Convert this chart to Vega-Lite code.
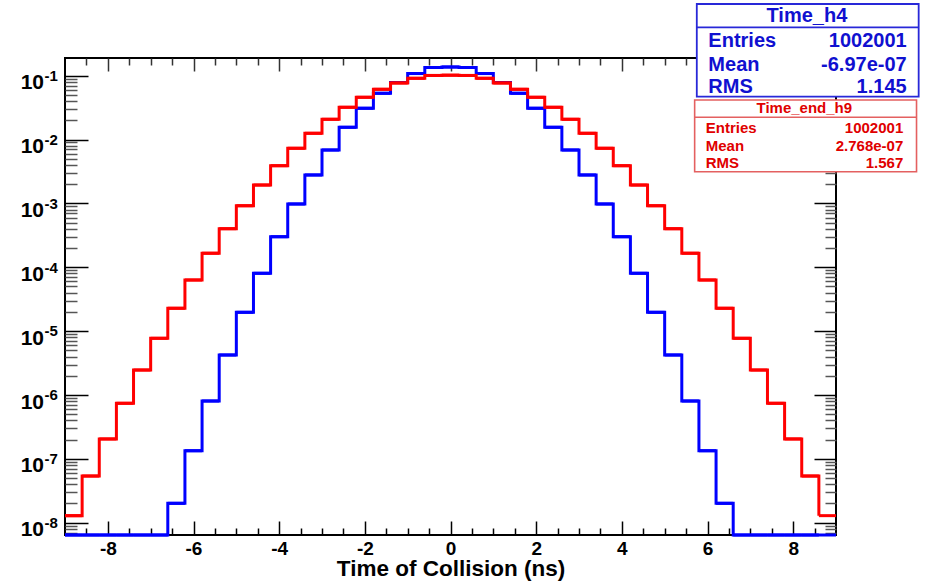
{
  "$schema": "https://vega.github.io/schema/vega-lite/v6.json",
  "width": 771,
  "height": 477,
  "autosize": "none",
  "padding": {"left": 65, "top": 58, "right": 89, "bottom": 50},
  "background": "white",
  "config": {"view": {"stroke": "#000", "strokeWidth": 2}, "font": "Liberation Sans"},
  "resolve": {"scale": {"y": "independent"}, "axis": {"x": "independent", "y": "independent"}},
  "datasets": {
    "hist": [
      {"h": "Time_h4", "lo": -9.0, "hi": -8.6, "n": 0},
      {"h": "Time_h4", "lo": -8.6, "hi": -8.2, "n": 0},
      {"h": "Time_h4", "lo": -8.2, "hi": -7.8, "n": 0},
      {"h": "Time_h4", "lo": -7.8, "hi": -7.4, "n": 0},
      {"h": "Time_h4", "lo": -7.4, "hi": -7.0, "n": 0},
      {"h": "Time_h4", "lo": -7.0, "hi": -6.6, "n": 0},
      {"h": "Time_h4", "lo": -6.6, "hi": -6.2, "n": 2.01e-8},
      {"h": "Time_h4", "lo": -6.2, "hi": -5.8, "n": 1.34e-7},
      {"h": "Time_h4", "lo": -5.8, "hi": -5.4, "n": 8.05e-7},
      {"h": "Time_h4", "lo": -5.4, "hi": -5.0, "n": 4.23e-6},
      {"h": "Time_h4", "lo": -5.0, "hi": -4.6, "n": 1.97e-5},
      {"h": "Time_h4", "lo": -4.6, "hi": -4.2, "n": 8.05e-5},
      {"h": "Time_h4", "lo": -4.2, "hi": -3.8, "n": 3.01e-4},
      {"h": "Time_h4", "lo": -3.8, "hi": -3.4, "n": 9.8e-4},
      {"h": "Time_h4", "lo": -3.4, "hi": -3.0, "n": 2.79e-3},
      {"h": "Time_h4", "lo": -3.0, "hi": -2.6, "n": 6.86e-3},
      {"h": "Time_h4", "lo": -2.6, "hi": -2.2, "n": 0.01556},
      {"h": "Time_h4", "lo": -2.2, "hi": -1.8, "n": 0.0309},
      {"h": "Time_h4", "lo": -1.8, "hi": -1.4, "n": 0.053},
      {"h": "Time_h4", "lo": -1.4, "hi": -1.0, "n": 0.0782},
      {"h": "Time_h4", "lo": -1.0, "hi": -0.6, "n": 0.108},
      {"h": "Time_h4", "lo": -0.6, "hi": -0.2, "n": 0.1343},
      {"h": "Time_h4", "lo": -0.2, "hi": 0.2, "n": 0.1368},
      {"h": "Time_h4", "lo": 0.2, "hi": 0.6, "n": 0.1343},
      {"h": "Time_h4", "lo": 0.6, "hi": 1.0, "n": 0.108},
      {"h": "Time_h4", "lo": 1.0, "hi": 1.4, "n": 0.0782},
      {"h": "Time_h4", "lo": 1.4, "hi": 1.8, "n": 0.053},
      {"h": "Time_h4", "lo": 1.8, "hi": 2.2, "n": 0.0309},
      {"h": "Time_h4", "lo": 2.2, "hi": 2.6, "n": 0.01556},
      {"h": "Time_h4", "lo": 2.6, "hi": 3.0, "n": 6.86e-3},
      {"h": "Time_h4", "lo": 3.0, "hi": 3.4, "n": 2.79e-3},
      {"h": "Time_h4", "lo": 3.4, "hi": 3.8, "n": 9.8e-4},
      {"h": "Time_h4", "lo": 3.8, "hi": 4.2, "n": 3.01e-4},
      {"h": "Time_h4", "lo": 4.2, "hi": 4.6, "n": 8.05e-5},
      {"h": "Time_h4", "lo": 4.6, "hi": 5.0, "n": 1.97e-5},
      {"h": "Time_h4", "lo": 5.0, "hi": 5.4, "n": 4.23e-6},
      {"h": "Time_h4", "lo": 5.4, "hi": 5.8, "n": 8.05e-7},
      {"h": "Time_h4", "lo": 5.8, "hi": 6.2, "n": 1.34e-7},
      {"h": "Time_h4", "lo": 6.2, "hi": 6.6, "n": 2.01e-8},
      {"h": "Time_h4", "lo": 6.6, "hi": 7.0, "n": 0},
      {"h": "Time_h4", "lo": 7.0, "hi": 7.4, "n": 0},
      {"h": "Time_h4", "lo": 7.4, "hi": 7.8, "n": 0},
      {"h": "Time_h4", "lo": 7.8, "hi": 8.2, "n": 0},
      {"h": "Time_h4", "lo": 8.2, "hi": 8.6, "n": 0},
      {"h": "Time_h4", "lo": 8.6, "hi": 9.0, "n": 0},
      {"h": "Time_end_h9", "lo": -9.0, "hi": -8.6, "n": 1.29e-8},
      {"h": "Time_end_h9", "lo": -8.6, "hi": -8.2, "n": 5.38e-8},
      {"h": "Time_end_h9", "lo": -8.2, "hi": -7.8, "n": 2.05e-7},
      {"h": "Time_end_h9", "lo": -7.8, "hi": -7.4, "n": 7.41e-7},
      {"h": "Time_end_h9", "lo": -7.4, "hi": -7.0, "n": 2.46e-6},
      {"h": "Time_end_h9", "lo": -7.0, "hi": -6.6, "n": 7.72e-6},
      {"h": "Time_end_h9", "lo": -6.6, "hi": -6.2, "n": 2.28e-5},
      {"h": "Time_end_h9", "lo": -6.2, "hi": -5.8, "n": 6.32e-5},
      {"h": "Time_end_h9", "lo": -5.8, "hi": -5.4, "n": 1.66e-4},
      {"h": "Time_end_h9", "lo": -5.4, "hi": -5.0, "n": 4.02e-4},
      {"h": "Time_end_h9", "lo": -5.0, "hi": -4.6, "n": 9.2e-4},
      {"h": "Time_end_h9", "lo": -4.6, "hi": -4.2, "n": 1.94e-3},
      {"h": "Time_end_h9", "lo": -4.2, "hi": -3.8, "n": 3.9e-3},
      {"h": "Time_end_h9", "lo": -3.8, "hi": -3.4, "n": 7.3e-3},
      {"h": "Time_end_h9", "lo": -3.4, "hi": -3.0, "n": 0.01253},
      {"h": "Time_end_h9", "lo": -3.0, "hi": -2.6, "n": 0.02076},
      {"h": "Time_end_h9", "lo": -2.6, "hi": -2.2, "n": 0.032},
      {"h": "Time_end_h9", "lo": -2.2, "hi": -1.8, "n": 0.0459},
      {"h": "Time_end_h9", "lo": -1.8, "hi": -1.4, "n": 0.0612},
      {"h": "Time_end_h9", "lo": -1.4, "hi": -1.0, "n": 0.0769},
      {"h": "Time_end_h9", "lo": -1.0, "hi": -0.6, "n": 0.091},
      {"h": "Time_end_h9", "lo": -0.6, "hi": -0.2, "n": 0.101},
      {"h": "Time_end_h9", "lo": -0.2, "hi": 0.2, "n": 0.102},
      {"h": "Time_end_h9", "lo": 0.2, "hi": 0.6, "n": 0.101},
      {"h": "Time_end_h9", "lo": 0.6, "hi": 1.0, "n": 0.091},
      {"h": "Time_end_h9", "lo": 1.0, "hi": 1.4, "n": 0.0769},
      {"h": "Time_end_h9", "lo": 1.4, "hi": 1.8, "n": 0.0612},
      {"h": "Time_end_h9", "lo": 1.8, "hi": 2.2, "n": 0.0459},
      {"h": "Time_end_h9", "lo": 2.2, "hi": 2.6, "n": 0.032},
      {"h": "Time_end_h9", "lo": 2.6, "hi": 3.0, "n": 0.02076},
      {"h": "Time_end_h9", "lo": 3.0, "hi": 3.4, "n": 0.01253},
      {"h": "Time_end_h9", "lo": 3.4, "hi": 3.8, "n": 7.3e-3},
      {"h": "Time_end_h9", "lo": 3.8, "hi": 4.2, "n": 3.9e-3},
      {"h": "Time_end_h9", "lo": 4.2, "hi": 4.6, "n": 1.94e-3},
      {"h": "Time_end_h9", "lo": 4.6, "hi": 5.0, "n": 9.2e-4},
      {"h": "Time_end_h9", "lo": 5.0, "hi": 5.4, "n": 4.02e-4},
      {"h": "Time_end_h9", "lo": 5.4, "hi": 5.8, "n": 1.66e-4},
      {"h": "Time_end_h9", "lo": 5.8, "hi": 6.2, "n": 6.32e-5},
      {"h": "Time_end_h9", "lo": 6.2, "hi": 6.6, "n": 2.28e-5},
      {"h": "Time_end_h9", "lo": 6.6, "hi": 7.0, "n": 7.72e-6},
      {"h": "Time_end_h9", "lo": 7.0, "hi": 7.4, "n": 2.46e-6},
      {"h": "Time_end_h9", "lo": 7.4, "hi": 7.8, "n": 7.41e-7},
      {"h": "Time_end_h9", "lo": 7.8, "hi": 8.2, "n": 2.05e-7},
      {"h": "Time_end_h9", "lo": 8.2, "hi": 8.6, "n": 5.38e-8},
      {"h": "Time_end_h9", "lo": 8.6, "hi": 9.0, "n": 1.29e-8}
    ],
    "stats": [
      {"h": "Time_h4", "stat": "Entries", "val": "1002001"},
      {"h": "Time_h4", "stat": "Mean", "val": "-6.97e-07"},
      {"h": "Time_h4", "stat": "RMS", "val": "1.145"},
      {"h": "Time_end_h9", "stat": "Entries", "val": "1002001"},
      {"h": "Time_end_h9", "stat": "Mean", "val": "2.768e-07"},
      {"h": "Time_end_h9", "stat": "RMS", "val": "1.567"}
    ],
    "boxes": [{"h": "Time_h4"}, {"h": "Time_end_h9"}],
    "decades": [
      {"d": 1e-1, "b": "10", "e": "-1"}, {"d": 1e-2, "b": "10", "e": "-2"}, {"d": 1e-3, "b": "10", "e": "-3"}, {"d": 1e-4, "b": "10", "e": "-4"},
      {"d": 1e-5, "b": "10", "e": "-5"}, {"d": 1e-6, "b": "10", "e": "-6"}, {"d": 1e-7, "b": "10", "e": "-7"}, {"d": 1e-8, "b": "10", "e": "-8"}
    ]
  },
  "layer": [
    {
      "data": {"name": "hist"},
      "transform": [{"filter": "datum.h === 'Time_h4'"}],
      "mark": {"type": "rule", "color": "#0000ff", "strokeWidth": 3},
      "encoding": {
        "x": {"field": "lo", "type": "quantitative", "scale": {"domain": [-9, 9], "nice": false, "zero": false},
          "axis": {"orient": "bottom", "values": [-8.5,-8,-7.5,-7,-6.5,-6,-5.5,-5,-4.5,-4,-3.5,-3,-2.5,-2,-1.5,-1,-0.5,0,0.5,1,1.5,2,2.5,3,3.5,4,4.5,5,5.5,6,6.5,7,7.5,8,8.5],
            "domain": false, "grid": false,
            "tickSize": {"condition": {"test": "datum.value % 2 === 0", "value": -14}, "value": -7},
            "tickColor": "#000", "tickWidth": 1.5,
            "labelExpr": "datum.value % 2 === 0 ? toString(datum.value) : ''",
            "labelFont": "Liberation Sans", "labelFontWeight": "bold", "labelFontSize": 19, "labelColor": "#000",
            "labelBaseline": "alphabetic", "labelPadding": 33, "labelFlush": false, "labelOverlap": false, "labelBound": false,
            "title": "Time of Collision (ns)", "titleFont": "Liberation Sans", "titleFontWeight": "bold", "titleFontSize": 22.5, "titleColor": "#000", "titlePadding": -8}},
        "x2": {"field": "hi"},
        "y": {"field": "n", "type": "quantitative", "scale": {"type": "log", "domain": [6.42e-9, 0.1893], "nice": false, "clamp": true},
          "axis": {"orient": "left", "values": [7e-9,8e-9,9e-9,1e-8,2e-8,3e-8,4e-8,5e-8,6e-8,7e-8,8e-8,9e-8,1e-7,2e-7,3e-7,4e-7,5e-7,6e-7,7e-7,8e-7,9e-7,1e-6,2e-6,3e-6,4e-6,5e-6,6e-6,7e-6,8e-6,9e-6,1e-5,2e-5,3e-5,4e-5,5e-5,6e-5,7e-5,8e-5,9e-5,1e-4,2e-4,3e-4,4e-4,5e-4,6e-4,7e-4,8e-4,9e-4,1e-3,2e-3,3e-3,4e-3,5e-3,6e-3,7e-3,8e-3,9e-3,1e-2,2e-2,3e-2,4e-2,5e-2,6e-2,7e-2,8e-2,9e-2,1e-1],
            "domain": false, "grid": false, "labels": false, "title": null,
            "tickSize": {"condition": {"test": "abs(log(datum.value)/LN10 - round(log(datum.value)/LN10)) < 0.001", "value": -23}, "value": -12},
            "tickColor": {"condition": {"test": "abs(log(datum.value)/LN10 - round(log(datum.value)/LN10)) < 0.001", "value": "#000"}, "value": "#555"},
            "tickWidth": 1.5}}
      }
    },
    {
      "data": {"name": "hist"},
      "transform": [{"filter": "datum.h === 'Time_h4'"}],
      "mark": {"type": "line", "interpolate": "step-after", "color": "#0000ff", "strokeWidth": 3},
      "encoding": {
        "x": {"field": "lo", "type": "quantitative",
          "axis": {"orient": "top", "values": [-8.5,-8,-7.5,-7,-6.5,-6,-5.5,-5,-4.5,-4,-3.5,-3,-2.5,-2,-1.5,-1,-0.5,0,0.5,1,1.5,2,2.5,3,3.5,4,4.5,5,5.5,6,6.5,7,7.5,8,8.5],
            "domain": false, "grid": false, "labels": false, "title": null,
            "tickSize": {"condition": {"test": "datum.value % 2 === 0", "value": -13}, "value": -7},
            "tickColor": "#333", "tickWidth": 1.5}},
        "y": {"field": "n", "type": "quantitative", "scale": {"type": "log", "domain": [6.42e-9, 0.1893], "nice": false, "clamp": true},
          "axis": {"orient": "right", "values": [7e-9,8e-9,9e-9,1e-8,2e-8,3e-8,4e-8,5e-8,6e-8,7e-8,8e-8,9e-8,1e-7,2e-7,3e-7,4e-7,5e-7,6e-7,7e-7,8e-7,9e-7,1e-6,2e-6,3e-6,4e-6,5e-6,6e-6,7e-6,8e-6,9e-6,1e-5,2e-5,3e-5,4e-5,5e-5,6e-5,7e-5,8e-5,9e-5,1e-4,2e-4,3e-4,4e-4,5e-4,6e-4,7e-4,8e-4,9e-4,1e-3,2e-3,3e-3,4e-3,5e-3,6e-3,7e-3,8e-3,9e-3,1e-2,2e-2,3e-2,4e-2,5e-2,6e-2,7e-2,8e-2,9e-2,1e-1],
            "domain": false, "grid": false, "labels": false, "title": null,
            "tickSize": {"condition": {"test": "abs(log(datum.value)/LN10 - round(log(datum.value)/LN10)) < 0.001", "value": -22}, "value": -11},
            "tickColor": {"condition": {"test": "abs(log(datum.value)/LN10 - round(log(datum.value)/LN10)) < 0.001", "value": "#000"}, "value": "#555"},
            "tickWidth": 1.5}}
      }
    },
    {
      "data": {"name": "hist"},
      "transform": [{"filter": "datum.h === 'Time_end_h9'"}],
      "mark": {"type": "rule", "color": "#ff0000", "strokeWidth": 3},
      "encoding": {
        "x": {"field": "lo", "type": "quantitative", "axis": null},
        "x2": {"field": "hi"},
        "y": {"field": "n", "type": "quantitative", "scale": {"type": "log", "domain": [6.42e-9, 0.1893], "nice": false, "clamp": true}, "axis": null}
      }
    },
    {
      "data": {"name": "hist"},
      "transform": [{"filter": "datum.h === 'Time_end_h9'"}],
      "mark": {"type": "line", "interpolate": "step-after", "color": "#ff0000", "strokeWidth": 3},
      "encoding": {
        "x": {"field": "lo", "type": "quantitative", "axis": null},
        "y": {"field": "n", "type": "quantitative", "scale": {"type": "log", "domain": [6.42e-9, 0.1893], "nice": false, "clamp": true}, "axis": null}
      }
    },
    {
      "data": {"name": "decades"},
      "mark": {"type": "text", "align": "right", "baseline": "alphabetic", "dx": -21, "dy": 13.6, "font": "Liberation Sans", "fontWeight": "bold", "fontSize": 21, "color": "#000"},
      "encoding": {
        "x": {"datum": -9, "type": "quantitative", "axis": null},
        "y": {"field": "d", "type": "quantitative", "scale": {"type": "log", "domain": [6.42e-9, 0.1893], "nice": false}, "axis": null},
        "text": {"field": "b"}
      }
    },
    {
      "data": {"name": "decades"},
      "mark": {"type": "text", "align": "left", "baseline": "alphabetic", "dx": -20.5, "dy": 5.3, "font": "Liberation Sans", "fontWeight": "bold", "fontSize": 15, "color": "#000"},
      "encoding": {
        "x": {"datum": -9, "type": "quantitative", "axis": null},
        "y": {"field": "d", "type": "quantitative", "scale": {"type": "log", "domain": [6.42e-9, 0.1893], "nice": false}, "axis": null},
        "text": {"field": "e"}
      }
    },
    {
      "data": {"name": "boxes"},
      "transform": [{"filter": "datum.h === 'Time_h4'"}],
      "mark": {"type": "rect", "fill": "white", "stroke": "#2828d8", "strokeWidth": 1.8},
      "encoding": {
        "x": {"datum": 5.75, "type": "quantitative", "axis": null},
        "x2": {"datum": 10.93},
        "y": {"datum": 1.327, "type": "quantitative", "scale": {"type": "log", "domain": [6.42e-9, 0.1893], "nice": false}, "axis": null},
        "y2": {"datum": 0.0469}
      }
    },
    {
      "data": {"name": "boxes"},
      "transform": [{"filter": "datum.h === 'Time_h4'"}],
      "mark": {"type": "rule", "stroke": "#2828d8", "strokeWidth": 1.8},
      "encoding": {
        "x": {"datum": 5.75, "type": "quantitative", "axis": null},
        "x2": {"datum": 10.93},
        "y": {"datum": 0.5728, "type": "quantitative", "scale": {"type": "log", "domain": [6.42e-9, 0.1893], "nice": false}, "axis": null}
      }
    },
    {
      "data": {"name": "boxes"},
      "transform": [{"filter": "datum.h === 'Time_h4'"}],
      "mark": {"type": "text", "align": "center", "baseline": "alphabetic", "font": "Liberation Sans", "fontWeight": "bold", "fontSize": 20, "color": "#1010d0"},
      "encoding": {
        "x": {"datum": 8.32, "type": "quantitative", "axis": null},
        "y": {"datum": 0.7009, "type": "quantitative", "scale": {"type": "log", "domain": [6.42e-9, 0.1893], "nice": false}, "axis": null},
        "text": {"field": "h"}
      }
    },
    {
      "data": {"name": "stats"},
      "transform": [{"filter": "datum.h === 'Time_h4' && datum.stat === 'Entries'"}],
      "mark": {"type": "text", "align": "left", "baseline": "alphabetic", "font": "Liberation Sans", "fontWeight": "bold", "fontSize": 20, "color": "#1010d0"},
      "encoding": {
        "x": {"datum": 6.02, "type": "quantitative", "axis": null},
        "y": {"datum": 0.2846, "type": "quantitative", "scale": {"type": "log", "domain": [6.42e-9, 0.1893], "nice": false}, "axis": null},
        "text": {"field": "stat"}
      }
    },
    {
      "data": {"name": "stats"},
      "transform": [{"filter": "datum.h === 'Time_h4' && datum.stat === 'Entries'"}],
      "mark": {"type": "text", "align": "right", "baseline": "alphabetic", "font": "Liberation Sans", "fontWeight": "bold", "fontSize": 20, "color": "#1010d0"},
      "encoding": {
        "x": {"datum": 10.65, "type": "quantitative", "axis": null},
        "y": {"datum": 0.2846, "type": "quantitative", "scale": {"type": "log", "domain": [6.42e-9, 0.1893], "nice": false}, "axis": null},
        "text": {"field": "val"}
      }
    },
    {
      "data": {"name": "stats"},
      "transform": [{"filter": "datum.h === 'Time_h4' && datum.stat === 'Mean'"}],
      "mark": {"type": "text", "align": "left", "baseline": "alphabetic", "font": "Liberation Sans", "fontWeight": "bold", "fontSize": 20, "color": "#1010d0"},
      "encoding": {
        "x": {"datum": 6.02, "type": "quantitative", "axis": null},
        "y": {"datum": 0.1198, "type": "quantitative", "scale": {"type": "log", "domain": [6.42e-9, 0.1893], "nice": false}, "axis": null},
        "text": {"field": "stat"}
      }
    },
    {
      "data": {"name": "stats"},
      "transform": [{"filter": "datum.h === 'Time_h4' && datum.stat === 'Mean'"}],
      "mark": {"type": "text", "align": "right", "baseline": "alphabetic", "font": "Liberation Sans", "fontWeight": "bold", "fontSize": 20, "color": "#1010d0"},
      "encoding": {
        "x": {"datum": 10.65, "type": "quantitative", "axis": null},
        "y": {"datum": 0.1198, "type": "quantitative", "scale": {"type": "log", "domain": [6.42e-9, 0.1893], "nice": false}, "axis": null},
        "text": {"field": "val"}
      }
    },
    {
      "data": {"name": "stats"},
      "transform": [{"filter": "datum.h === 'Time_h4' && datum.stat === 'RMS'"}],
      "mark": {"type": "text", "align": "left", "baseline": "alphabetic", "font": "Liberation Sans", "fontWeight": "bold", "fontSize": 20, "color": "#1010d0"},
      "encoding": {
        "x": {"datum": 6.02, "type": "quantitative", "axis": null},
        "y": {"datum": 0.053, "type": "quantitative", "scale": {"type": "log", "domain": [6.42e-9, 0.1893], "nice": false}, "axis": null},
        "text": {"field": "stat"}
      }
    },
    {
      "data": {"name": "stats"},
      "transform": [{"filter": "datum.h === 'Time_h4' && datum.stat === 'RMS'"}],
      "mark": {"type": "text", "align": "right", "baseline": "alphabetic", "font": "Liberation Sans", "fontWeight": "bold", "fontSize": 20, "color": "#1010d0"},
      "encoding": {
        "x": {"datum": 10.65, "type": "quantitative", "axis": null},
        "y": {"datum": 0.053, "type": "quantitative", "scale": {"type": "log", "domain": [6.42e-9, 0.1893], "nice": false}, "axis": null},
        "text": {"field": "val"}
      }
    },
    {
      "data": {"name": "boxes"},
      "transform": [{"filter": "datum.h === 'Time_end_h9'"}],
      "mark": {"type": "rect", "fill": "white", "stroke": "#e46060", "strokeWidth": 1.6},
      "encoding": {
        "x": {"datum": 5.70, "type": "quantitative", "axis": null},
        "x2": {"datum": 10.88},
        "y": {"datum": 0.04164, "type": "quantitative", "scale": {"type": "log", "domain": [6.42e-9, 0.1893], "nice": false}, "axis": null},
        "y2": {"datum": 0.003139}
      }
    },
    {
      "data": {"name": "boxes"},
      "transform": [{"filter": "datum.h === 'Time_end_h9'"}],
      "mark": {"type": "rule", "stroke": "#e46060", "strokeWidth": 1.6},
      "encoding": {
        "x": {"datum": 5.70, "type": "quantitative", "axis": null},
        "x2": {"datum": 10.88},
        "y": {"datum": 0.02232, "type": "quantitative", "scale": {"type": "log", "domain": [6.42e-9, 0.1893], "nice": false}, "axis": null}
      }
    },
    {
      "data": {"name": "boxes"},
      "transform": [{"filter": "datum.h === 'Time_end_h9'"}],
      "mark": {"type": "text", "align": "center", "baseline": "alphabetic", "font": "Liberation Sans", "fontWeight": "bold", "fontSize": 15, "color": "#e00000"},
      "encoding": {
        "x": {"datum": 8.26, "type": "quantitative", "axis": null},
        "y": {"datum": 0.02578, "type": "quantitative", "scale": {"type": "log", "domain": [6.42e-9, 0.1893], "nice": false}, "axis": null},
        "text": {"field": "h"}
      }
    },
    {
      "data": {"name": "stats"},
      "transform": [{"filter": "datum.h === 'Time_end_h9' && datum.stat === 'Entries'"}],
      "mark": {"type": "text", "align": "left", "baseline": "alphabetic", "font": "Liberation Sans", "fontWeight": "bold", "fontSize": 15, "color": "#e00000"},
      "encoding": {
        "x": {"datum": 5.96, "type": "quantitative", "axis": null},
        "y": {"datum": 0.01253, "type": "quantitative", "scale": {"type": "log", "domain": [6.42e-9, 0.1893], "nice": false}, "axis": null},
        "text": {"field": "stat"}
      }
    },
    {
      "data": {"name": "stats"},
      "transform": [{"filter": "datum.h === 'Time_end_h9' && datum.stat === 'Entries'"}],
      "mark": {"type": "text", "align": "right", "baseline": "alphabetic", "font": "Liberation Sans", "fontWeight": "bold", "fontSize": 15, "color": "#e00000"},
      "encoding": {
        "x": {"datum": 10.57, "type": "quantitative", "axis": null},
        "y": {"datum": 0.01253, "type": "quantitative", "scale": {"type": "log", "domain": [6.42e-9, 0.1893], "nice": false}, "axis": null},
        "text": {"field": "val"}
      }
    },
    {
      "data": {"name": "stats"},
      "transform": [{"filter": "datum.h === 'Time_end_h9' && datum.stat === 'Mean'"}],
      "mark": {"type": "text", "align": "left", "baseline": "alphabetic", "font": "Liberation Sans", "fontWeight": "bold", "fontSize": 15, "color": "#e00000"},
      "encoding": {
        "x": {"datum": 5.96, "type": "quantitative", "axis": null},
        "y": {"datum": 0.00669, "type": "quantitative", "scale": {"type": "log", "domain": [6.42e-9, 0.1893], "nice": false}, "axis": null},
        "text": {"field": "stat"}
      }
    },
    {
      "data": {"name": "stats"},
      "transform": [{"filter": "datum.h === 'Time_end_h9' && datum.stat === 'Mean'"}],
      "mark": {"type": "text", "align": "right", "baseline": "alphabetic", "font": "Liberation Sans", "fontWeight": "bold", "fontSize": 15, "color": "#e00000"},
      "encoding": {
        "x": {"datum": 10.57, "type": "quantitative", "axis": null},
        "y": {"datum": 0.00669, "type": "quantitative", "scale": {"type": "log", "domain": [6.42e-9, 0.1893], "nice": false}, "axis": null},
        "text": {"field": "val"}
      }
    },
    {
      "data": {"name": "stats"},
      "transform": [{"filter": "datum.h === 'Time_end_h9' && datum.stat === 'RMS'"}],
      "mark": {"type": "text", "align": "left", "baseline": "alphabetic", "font": "Liberation Sans", "fontWeight": "bold", "fontSize": 15, "color": "#e00000"},
      "encoding": {
        "x": {"datum": 5.96, "type": "quantitative", "axis": null},
        "y": {"datum": 0.003625, "type": "quantitative", "scale": {"type": "log", "domain": [6.42e-9, 0.1893], "nice": false}, "axis": null},
        "text": {"field": "stat"}
      }
    },
    {
      "data": {"name": "stats"},
      "transform": [{"filter": "datum.h === 'Time_end_h9' && datum.stat === 'RMS'"}],
      "mark": {"type": "text", "align": "right", "baseline": "alphabetic", "font": "Liberation Sans", "fontWeight": "bold", "fontSize": 15, "color": "#e00000"},
      "encoding": {
        "x": {"datum": 10.57, "type": "quantitative", "axis": null},
        "y": {"datum": 0.003625, "type": "quantitative", "scale": {"type": "log", "domain": [6.42e-9, 0.1893], "nice": false}, "axis": null},
        "text": {"field": "val"}
      }
    }
  ]
}
